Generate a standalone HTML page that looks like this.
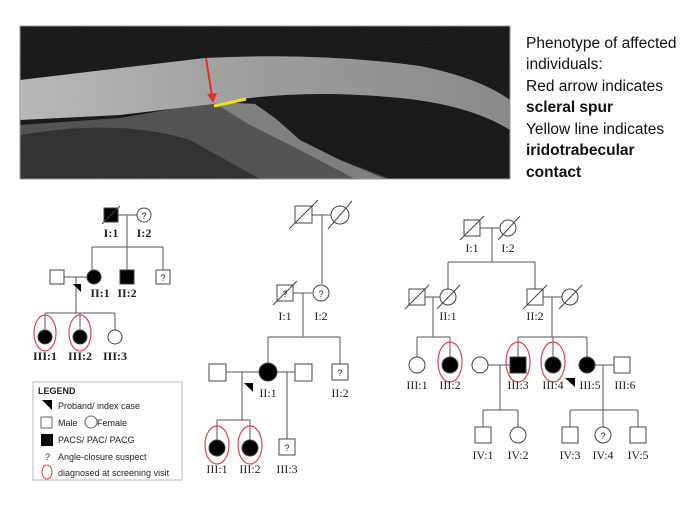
<!DOCTYPE html>
<html><head><meta charset="utf-8"><style>
html,body{margin:0;padding:0;background:#fff;width:700px;height:525px;overflow:hidden}
svg{display:block}
.l{font-family:"Liberation Serif",serif;font-size:12px;fill:#222;text-anchor:middle}
.t{font-family:"Liberation Sans",sans-serif;font-size:15.5px;fill:#111}
.g{font-family:"Liberation Sans",sans-serif;font-size:9px;fill:#222}
</style></head><body>
<svg width="700" height="525" viewBox="0 0 700 525">
<defs>
<linearGradient id="cg" x1="0" y1="0" x2="1" y2="0">
<stop offset="0" stop-color="#b8b8b8"/><stop offset="0.5" stop-color="#9a9a9a"/><stop offset="1" stop-color="#858585"/>
</linearGradient>
<filter id="nz" x="0" y="0" width="1" height="1">
<feTurbulence type="fractalNoise" baseFrequency="0.9" numOctaves="2" seed="3"/>
<feColorMatrix values="0 0 0 0 0.5  0 0 0 0 0.5  0 0 0 0 0.5  0 0 0 0.35 0"/>
</filter>
<clipPath id="ic"><rect x="20" y="26" width="490" height="153"/></clipPath>
</defs>
<!-- OCT image -->
<rect x="20" y="26" width="490" height="153" fill="#0c0c0c"/>
<g clip-path="url(#ic)">
<path d="M20,125 L120,118 L213,102 L255,104 L290,140 L340,160 L390,179 L20,179 Z" fill="#4a4a4a"/>
<path d="M20,135 Q120,118 190,140 L260,179 L20,179 Z" fill="#262626"/>
<path d="M213,102 L255,104 L275,118 L300,140 L340,160 L385,179 L355,179 L300,150 L250,125 Z" fill="#7a7a7a"/>
<path d="M20,80 L205,58 Q320,52 420,66 Q480,78 510,100 L510,130 Q470,105 400,98 Q320,90 250,98 L213,104 L120,115 L20,120 Z" fill="url(#cg)"/>
<rect x="20" y="26" width="490" height="153" filter="url(#nz)" opacity="0.5"/>
</g>
<rect x="20" y="26" width="490" height="153" fill="none" stroke="#999" stroke-width="1"/>
<line x1="206" y1="58" x2="212" y2="96" stroke="#e53020" stroke-width="2"/>
<polygon points="207,94 217,93 213,103" fill="#e53020"/>
<line x1="214" y1="106" x2="246" y2="99" stroke="#f0e020" stroke-width="3"/>
<!-- text -->
<text class="t" x="526" y="48">Phenotype of affected</text>
<text class="t" x="526" y="69">individuals:</text>
<text class="t" x="526" y="91">Red arrow indicates</text>
<text class="t" x="526" y="112" font-weight="bold">scleral spur</text>
<text class="t" x="526" y="134">Yellow line indicates</text>
<text class="t" x="526" y="155" font-weight="bold">iridotrabecular</text>
<text class="t" x="526" y="177" font-weight="bold">contact</text>

<g stroke="#555" stroke-width="1" fill="none">
<path d="M118,215 H137 M127,215 V247 M92,247 H163 M92,247 V270 M127,247 V270 M163,247 V270 M64,277 H87 M76,277 V313 M45,313 H115 M45,313 V330 M80,313 V330 M115,313 V330"/>
<path d="M312,215 H331 M322,215 V284 M293,293 H312 M303,293 V337 M268,337 H340 M268,337 V363 M340,337 V364 M226,372 H259 M277,372 H295 M242,372 V420 M217,420 H250 M217,420 V440 M250,420 V440 M287,372 V439"/>
<path d="M480,228 H500 M492,228 V262 M448,262 H535 M448,262 V289 M535,262 V289 M425,297 H440 M433,297 V337 M417,337 H450 M417,337 V357 M450,337 V357 M543,297 H562 M552,297 V337 M518,337 H587 M518,337 V357 M553,337 V357 M587,337 V357 M488,365 H510 M500,365 V410 M483,410 H518 M483,410 V427 M518,410 V427 M595,365 H614 M603,365 V410 M570,410 H638 M570,410 V427 M603,410 V427 M638,410 V427"/>
</g>

<g stroke="#444" stroke-width="1">
<rect x="104" y="208" width="14" height="14" fill="#000"/>
<line x1="102" y1="224" x2="120" y2="206"/>
<circle cx="144" cy="215" r="7" fill="#fff"/>
<circle cx="94" cy="277" r="7" fill="#000"/>
<rect x="50" y="270" width="14" height="14" fill="#fff"/>
<rect x="120" y="270" width="14" height="14" fill="#000"/>
<rect x="156" y="270" width="14" height="14" fill="#fff"/>
<circle cx="45" cy="337" r="7" fill="#000"/>
<circle cx="80" cy="337" r="7" fill="#000"/>
<circle cx="115" cy="337" r="7" fill="#fff"/>
<rect x="295" y="206" width="17" height="17" fill="#fff"/>
<line x1="289" y1="229" x2="318" y2="200"/>
<circle cx="340" cy="215" r="9" fill="#fff"/>
<line x1="328" y1="229" x2="352" y2="201"/>
<rect x="277" y="285" width="16" height="16" fill="#fff"/>
<line x1="273" y1="305" x2="297" y2="281"/>
<circle cx="321" cy="293" r="8" fill="#fff"/>
<rect x="209" y="364" width="17" height="17" fill="#fff"/>
<circle cx="268" cy="372" r="9" fill="#000"/>
<rect x="295" y="364" width="17" height="17" fill="#fff"/>
<rect x="332" y="364" width="16" height="16" fill="#fff"/>
<circle cx="217" cy="448" r="8" fill="#000"/>
<circle cx="250" cy="448" r="8" fill="#000"/>
<rect x="279" y="439" width="16" height="16" fill="#fff"/>
<rect x="464" y="220" width="16" height="16" fill="#fff"/>
<line x1="460" y1="240" x2="484" y2="216"/>
<circle cx="508" cy="228" r="8" fill="#fff"/>
<line x1="498" y1="240" x2="520" y2="216"/>
<rect x="409" y="289" width="16" height="16" fill="#fff"/>
<line x1="405" y1="309" x2="429" y2="285"/>
<circle cx="448" cy="297" r="8" fill="#fff"/>
<line x1="437" y1="309" x2="460" y2="285"/>
<rect x="527" y="289" width="16" height="16" fill="#fff"/>
<line x1="523" y1="309" x2="547" y2="285"/>
<circle cx="570" cy="297" r="8" fill="#fff"/>
<line x1="559" y1="309" x2="582" y2="285"/>
<circle cx="417" cy="365" r="8" fill="#fff"/>
<circle cx="450" cy="365" r="8" fill="#000"/>
<circle cx="480" cy="365" r="8" fill="#fff"/>
<rect x="510" y="357" width="16" height="16" fill="#000"/>
<circle cx="553" cy="365" r="8" fill="#000"/>
<circle cx="587" cy="365" r="8" fill="#000"/>
<rect x="614" y="357" width="16" height="16" fill="#fff"/>
<rect x="475" y="427" width="16" height="16" fill="#fff"/>
<circle cx="518" cy="435" r="8" fill="#fff"/>
<rect x="562" y="427" width="16" height="16" fill="#fff"/>
<circle cx="603" cy="435" r="8" fill="#fff"/>
<rect x="630" y="427" width="16" height="16" fill="#fff"/>
</g>

<g class="g">
<text x="144" y="219" text-anchor="middle">?</text>
<text x="163" y="281" text-anchor="middle">?</text>
<text x="285" y="297" text-anchor="middle">?</text>
<text x="321" y="297" text-anchor="middle">?</text>
<text x="340" y="376" text-anchor="middle">?</text>
<text x="287" y="451" text-anchor="middle">?</text>
<text x="603" y="439" text-anchor="middle">?</text>
</g>

<g stroke="#e04050" stroke-width="1.2" fill="none">
<ellipse cx="45" cy="333" rx="11" ry="18"/>
<ellipse cx="80" cy="333" rx="11" ry="18"/>
<ellipse cx="217" cy="445" rx="12" ry="19"/>
<ellipse cx="250" cy="445" rx="12" ry="19"/>
<ellipse cx="450" cy="362" rx="12" ry="20"/>
<ellipse cx="518" cy="362" rx="12" ry="20"/>
<ellipse cx="553" cy="362" rx="12" ry="20"/>
</g>

<polygon points="73,284 81,284 81,292" fill="#000"/>
<polygon points="244,383 253,383 253,392" fill="#000"/>
<polygon points="565,378 575,378 575,387" fill="#000"/>

<g class="l" font-weight="bold">
<text x="111" y="237">I:1</text><text x="144" y="237">I:2</text>
<text x="100" y="297">II:1</text><text x="127" y="297">II:2</text>
<text x="45" y="360">III:1</text><text x="80" y="360">III:2</text><text x="115" y="360">III:3</text>
</g>
<g class="l">
<text x="285" y="320">I:1</text><text x="321" y="320">I:2</text>
<text x="268" y="397">II:1</text><text x="340" y="397">II:2</text>
<text x="217" y="473">III:1</text><text x="250" y="473">III:2</text><text x="287" y="473">III:3</text>
<text x="472" y="252">I:1</text><text x="508" y="252">I:2</text>
<text x="448" y="320">II:1</text><text x="535" y="320">II:2</text>
<text x="417" y="389">III:1</text><text x="450" y="389">III:2</text>
<text x="518" y="389">III:3</text><text x="553" y="389">III:4</text><text x="590" y="389">III:5</text><text x="625" y="389">III:6</text>
<text x="483" y="459">IV:1</text><text x="518" y="459">IV:2</text>
<text x="570" y="459">IV:3</text><text x="603" y="459">IV:4</text><text x="638" y="459">IV:5</text>
</g>

<rect x="33" y="382" width="149" height="98" fill="#fff" stroke="#bbb"/>
<text class="g" x="38" y="394" font-weight="bold">LEGEND</text>
<polygon points="42,400 52,400 52,410" fill="#000"/>
<text class="g" x="58" y="409">Proband/ index case</text>
<rect x="41" y="417" width="11" height="11" fill="#fff" stroke="#666"/>
<text class="g" x="58" y="426">Male</text>
<circle cx="91" cy="422" r="6" fill="#fff" stroke="#666"/>
<text class="g" x="97" y="426">Female</text>
<rect x="41" y="434" width="12" height="12" fill="#000"/>
<text class="g" x="58" y="443">PACS/ PAC/ PACG</text>
<text class="g" x="45" y="460">?</text>
<text class="g" x="58" y="460">Angle-closure suspect</text>
<ellipse cx="47" cy="472" rx="5" ry="7" fill="none" stroke="#e04050"/>
<text class="g" x="58" y="476">diagnosed at screening visit</text>
</svg>
</body></html>
